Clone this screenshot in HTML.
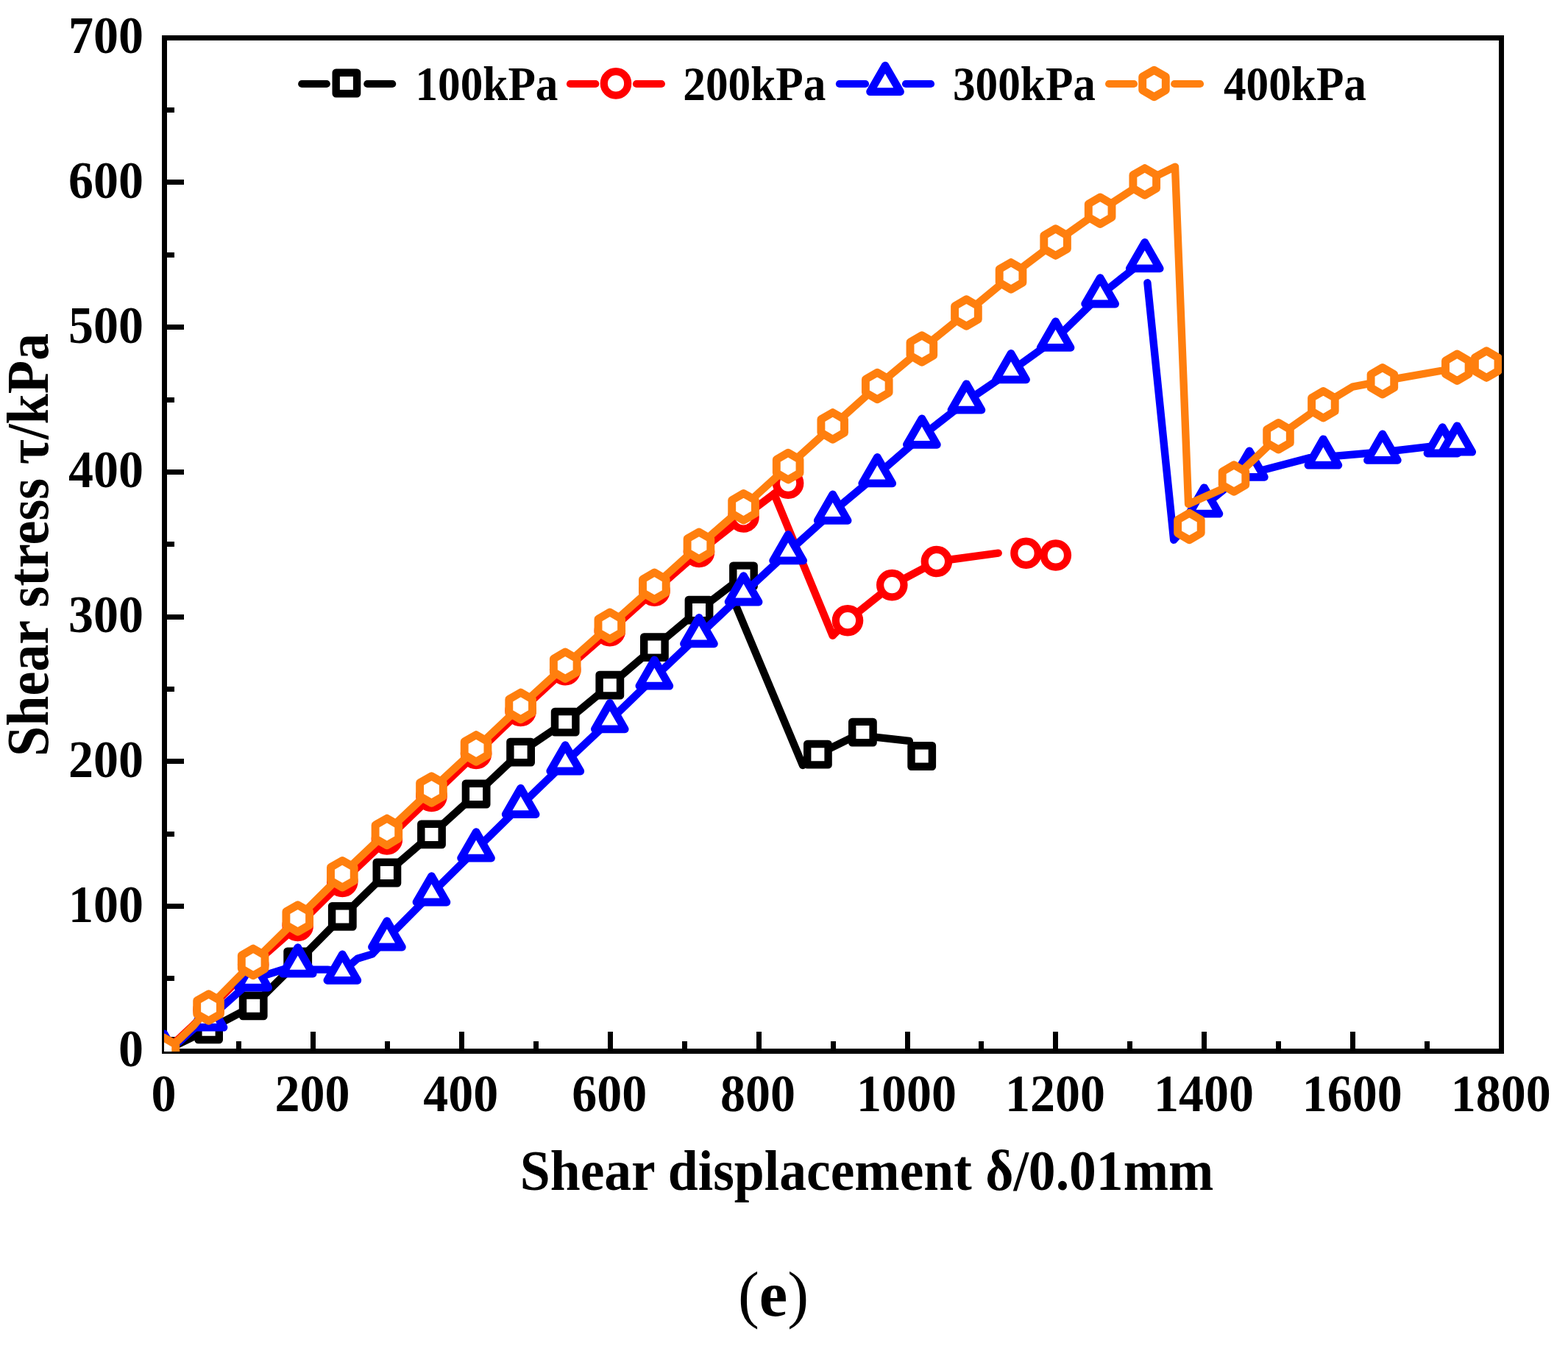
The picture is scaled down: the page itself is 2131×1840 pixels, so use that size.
<!DOCTYPE html>
<html lang="en">
<head>
<meta charset="utf-8">
<title>Shear stress vs shear displacement (e)</title>
<style>
html,body{margin:0;padding:0;background:#fff;}
body{width:2131px;height:1840px;overflow:hidden;}
svg{display:block;}
text{font-family:"Liberation Serif","DejaVu Serif",serif;font-weight:bold;fill:#000;}
.tick{font-size:68px;}
.leg{font-size:60px;}
.axl{font-size:77px;}
.cap{font-size:91px;}
.ln polyline,.ln line{fill:none;stroke-width:10.4;stroke-linecap:round;stroke-linejoin:round;}
.mk rect,.mk circle,.mk polygon{fill:#fff;stroke-width:10.2;stroke-linejoin:round;}
.lg line{stroke-width:10.2px;}
.mk .sq{stroke-width:10.4px;}.mk .ci{stroke-width:10.2px;}.mk .tr{stroke-width:10.8px;}.mk .hx{stroke-width:10.9px;}
</style>
</head>
<body>
<svg width="2131" height="1840" viewBox="0 0 2131 1840">
<rect x="0" y="0" width="2131" height="1840" fill="#fff"/>

<g shape-rendering="crispEdges" fill="none" stroke="#000" stroke-width="7">
<rect x="223.4" y="51.2" width="1817.2" height="1377"/>
<line x1="324.4" y1="1428.2" x2="324.4" y2="1414.7"/>
<line x1="425.3" y1="1428.2" x2="425.3" y2="1401.9"/>
<line x1="526.3" y1="1428.2" x2="526.3" y2="1414.7"/>
<line x1="627.2" y1="1428.2" x2="627.2" y2="1401.9"/>
<line x1="728.2" y1="1428.2" x2="728.2" y2="1414.7"/>
<line x1="829.1" y1="1428.2" x2="829.1" y2="1401.9"/>
<line x1="930.1" y1="1428.2" x2="930.1" y2="1414.7"/>
<line x1="1031" y1="1428.2" x2="1031" y2="1401.9"/>
<line x1="1132" y1="1428.2" x2="1132" y2="1414.7"/>
<line x1="1233" y1="1428.2" x2="1233" y2="1401.9"/>
<line x1="1333.9" y1="1428.2" x2="1333.9" y2="1414.7"/>
<line x1="1434.9" y1="1428.2" x2="1434.9" y2="1401.9"/>
<line x1="1535.8" y1="1428.2" x2="1535.8" y2="1414.7"/>
<line x1="1636.8" y1="1428.2" x2="1636.8" y2="1401.9"/>
<line x1="1737.7" y1="1428.2" x2="1737.7" y2="1414.7"/>
<line x1="1838.7" y1="1428.2" x2="1838.7" y2="1401.9"/>
<line x1="1939.6" y1="1428.2" x2="1939.6" y2="1414.7"/>
<line x1="223.4" y1="1329.8" x2="236.9" y2="1329.8"/>
<line x1="223.4" y1="1231.5" x2="249.7" y2="1231.5"/>
<line x1="223.4" y1="1133.1" x2="236.9" y2="1133.1"/>
<line x1="223.4" y1="1034.8" x2="249.7" y2="1034.8"/>
<line x1="223.4" y1="936.4" x2="236.9" y2="936.4"/>
<line x1="223.4" y1="838.1" x2="249.7" y2="838.1"/>
<line x1="223.4" y1="739.7" x2="236.9" y2="739.7"/>
<line x1="223.4" y1="641.3" x2="249.7" y2="641.3"/>
<line x1="223.4" y1="543" x2="236.9" y2="543"/>
<line x1="223.4" y1="444.6" x2="249.7" y2="444.6"/>
<line x1="223.4" y1="346.3" x2="236.9" y2="346.3"/>
<line x1="223.4" y1="247.9" x2="249.7" y2="247.9"/>
<line x1="223.4" y1="149.6" x2="236.9" y2="149.6"/>
</g>
<g class="tick">
<text class="tick" transform="translate(222.5 1509.6) scale(1.0 1.065)" text-anchor="middle">0</text>
<text class="tick" transform="translate(424.4 1509.6) scale(1.0 1.065)" text-anchor="middle">200</text>
<text class="tick" transform="translate(626.3 1509.6) scale(1.0 1.065)" text-anchor="middle">400</text>
<text class="tick" transform="translate(828.2 1509.6) scale(1.0 1.065)" text-anchor="middle">600</text>
<text class="tick" transform="translate(1030.1 1509.6) scale(1.0 1.065)" text-anchor="middle">800</text>
<text class="tick" transform="translate(1232.1 1509.6) scale(1.0 1.065)" text-anchor="middle">1000</text>
<text class="tick" transform="translate(1434 1509.6) scale(1.0 1.065)" text-anchor="middle">1200</text>
<text class="tick" transform="translate(1635.9 1509.6) scale(1.0 1.065)" text-anchor="middle">1400</text>
<text class="tick" transform="translate(1837.8 1509.6) scale(1.0 1.065)" text-anchor="middle">1600</text>
<text class="tick" transform="translate(2039.7 1509.6) scale(1.0 1.065)" text-anchor="middle">1800</text>
<text class="tick" transform="translate(195.1 1449.3) scale(1.0 1.065)" text-anchor="end">0</text>
<text class="tick" transform="translate(195.1 1252.6) scale(1.0 1.065)" text-anchor="end">100</text>
<text class="tick" transform="translate(195.1 1055.9) scale(1.0 1.065)" text-anchor="end">200</text>
<text class="tick" transform="translate(195.1 859.2) scale(1.0 1.065)" text-anchor="end">300</text>
<text class="tick" transform="translate(195.1 662.4) scale(1.0 1.065)" text-anchor="end">400</text>
<text class="tick" transform="translate(195.1 465.7) scale(1.0 1.065)" text-anchor="end">500</text>
<text class="tick" transform="translate(195.1 269) scale(1.0 1.065)" text-anchor="end">600</text>
<text class="tick" transform="translate(195.1 72.3) scale(1.0 1.065)" text-anchor="end">700</text>
</g>
<clipPath id="plotclip"><rect x="223" y="51.2" width="1818" height="1377.8"/></clipPath>
<g clip-path="url(#plotclip)">
<g class="ln"><polyline points="222.9,1428.4 283.6,1398.8 344.2,1366.8 404.7,1306.8 465.3,1245.4 525.9,1186 586.5,1133.9 647.1,1079 707.6,1022.1 768.2,981.2 828.8,931.2 889.4,879.6 950,829.1 1010.5,782.8" stroke="#000000"/><polyline points="1001.1,825.6 1091,1040 1111.4,1025.2 1172.4,995.1 1182,1000.8 1235.8,1006.9" stroke="#000000"/></g>
<g class="mk"><rect class="sq" x="208.7" y="1414.2" width="28.4" height="28.4" stroke="#000000"/><rect class="sq" x="269.4" y="1384.6" width="28.4" height="28.4" stroke="#000000"/><rect class="sq" x="330" y="1352.6" width="28.4" height="28.4" stroke="#000000"/><rect class="sq" x="390.5" y="1292.6" width="28.4" height="28.4" stroke="#000000"/><rect class="sq" x="451.1" y="1231.2" width="28.4" height="28.4" stroke="#000000"/><rect class="sq" x="511.7" y="1171.8" width="28.4" height="28.4" stroke="#000000"/><rect class="sq" x="572.3" y="1119.7" width="28.4" height="28.4" stroke="#000000"/><rect class="sq" x="632.9" y="1064.8" width="28.4" height="28.4" stroke="#000000"/><rect class="sq" x="693.4" y="1007.9" width="28.4" height="28.4" stroke="#000000"/><rect class="sq" x="754" y="967" width="28.4" height="28.4" stroke="#000000"/><rect class="sq" x="814.6" y="917" width="28.4" height="28.4" stroke="#000000"/><rect class="sq" x="875.2" y="865.4" width="28.4" height="28.4" stroke="#000000"/><rect class="sq" x="935.8" y="814.9" width="28.4" height="28.4" stroke="#000000"/><rect class="sq" x="996.3" y="768.6" width="28.4" height="28.4" stroke="#000000"/><rect class="sq" x="1097.2" y="1011" width="28.4" height="28.4" stroke="#000000"/><rect class="sq" x="1158.2" y="980.9" width="28.4" height="28.4" stroke="#000000"/><rect class="sq" x="1238.5" y="1013.3" width="28.4" height="28.4" stroke="#000000"/></g>
<g class="ln"><polyline points="222.9,1428.4 243.2,1411.5 263.4,1392.5 283.6,1372 344.2,1311 404.7,1257.9 465.3,1198 525.9,1140.5 586.5,1081.9 647.1,1024 707.6,966 768.2,910.1 828.8,857.3 889.4,802.8 950,750 1010.5,702.4 1071.1,656.6" stroke="#FF0000"/><polyline points="1052,671.1 1131.6,863.8 1152,843.2 1212.3,795.1 1272.9,763 1356.7,751.7" stroke="#FF0000"/></g>
<g class="mk"><circle class="ci" cx="222.9" cy="1428.4" r="16.2" stroke="#FF0000"/><circle class="ci" cx="283.6" cy="1372" r="16.2" stroke="#FF0000"/><circle class="ci" cx="344.2" cy="1311" r="16.2" stroke="#FF0000"/><circle class="ci" cx="404.7" cy="1257.9" r="16.2" stroke="#FF0000"/><circle class="ci" cx="465.3" cy="1198" r="16.2" stroke="#FF0000"/><circle class="ci" cx="525.9" cy="1140.5" r="16.2" stroke="#FF0000"/><circle class="ci" cx="586.5" cy="1081.9" r="16.2" stroke="#FF0000"/><circle class="ci" cx="647.1" cy="1024" r="16.2" stroke="#FF0000"/><circle class="ci" cx="707.6" cy="966" r="16.2" stroke="#FF0000"/><circle class="ci" cx="768.2" cy="910.1" r="16.2" stroke="#FF0000"/><circle class="ci" cx="828.8" cy="857.3" r="16.2" stroke="#FF0000"/><circle class="ci" cx="889.4" cy="802.8" r="16.2" stroke="#FF0000"/><circle class="ci" cx="950" cy="750" r="16.2" stroke="#FF0000"/><circle class="ci" cx="1010.5" cy="702.4" r="16.2" stroke="#FF0000"/><circle class="ci" cx="1071.1" cy="656.6" r="16.2" stroke="#FF0000"/><circle class="ci" cx="1152" cy="843.2" r="16.2" stroke="#FF0000"/><circle class="ci" cx="1212.3" cy="795.1" r="16.2" stroke="#FF0000"/><circle class="ci" cx="1272.9" cy="763" r="16.2" stroke="#FF0000"/><circle class="ci" cx="1394.5" cy="751.7" r="16.2" stroke="#FF0000"/><circle class="ci" cx="1434.8" cy="754.5" r="16.2" stroke="#FF0000"/></g>
<g class="ln"><polyline points="222.9,1428.4 243.2,1416 263.4,1398 283.6,1384.4 344.2,1330.3 404.7,1311.3 425,1317.6 445,1317.6 465.3,1320.5 485.6,1302.8 505.8,1296.6 525.9,1275.2 586.5,1214.2 647.1,1154.3 707.6,1094.8 768.2,1036.2 828.8,979.1 889.4,920.4 950,863.1 1010.5,806.2 1071.1,750.1 1131.7,695.6 1192.3,645.1 1252.9,592.5 1313.4,545.4 1374,504.1 1434.6,460.6 1495.2,401.2 1555.8,353.1" stroke="#0000FF"/><polyline points="1559.4,384.3 1595.2,733.7 1636.5,687.1 1697.9,637.2 1704,642 1779.3,622.2 1798.4,621.1 1878.9,614.3 1960.4,604.9" stroke="#0000FF"/></g>
<g class="mk"><polygon class="tr" points="222.9,1404.8 243.3,1440.2 202.5,1440.2" stroke="#0000FF"/><polygon class="tr" points="283.6,1360.8 304,1396.2 263.1,1396.2" stroke="#0000FF"/><polygon class="tr" points="344.2,1306.7 364.6,1342.1 323.7,1342.1" stroke="#0000FF"/><polygon class="tr" points="404.7,1287.7 425.2,1323.1 384.3,1323.1" stroke="#0000FF"/><polygon class="tr" points="465.3,1296.9 485.8,1332.3 444.9,1332.3" stroke="#0000FF"/><polygon class="tr" points="525.9,1251.6 546.3,1287 505.5,1287" stroke="#0000FF"/><polygon class="tr" points="586.5,1190.6 606.9,1226 566,1226" stroke="#0000FF"/><polygon class="tr" points="647.1,1130.7 667.5,1166.1 626.6,1166.1" stroke="#0000FF"/><polygon class="tr" points="707.6,1071.2 728.1,1106.6 687.2,1106.6" stroke="#0000FF"/><polygon class="tr" points="768.2,1012.6 788.7,1048 747.8,1048" stroke="#0000FF"/><polygon class="tr" points="828.8,955.5 849.2,990.9 808.4,990.9" stroke="#0000FF"/><polygon class="tr" points="889.4,896.8 909.8,932.2 868.9,932.2" stroke="#0000FF"/><polygon class="tr" points="950,839.5 970.4,874.9 929.5,874.9" stroke="#0000FF"/><polygon class="tr" points="1010.5,782.6 1031,818 990.1,818" stroke="#0000FF"/><polygon class="tr" points="1071.1,726.5 1091.6,761.9 1050.7,761.9" stroke="#0000FF"/><polygon class="tr" points="1131.7,672 1152.1,707.4 1111.3,707.4" stroke="#0000FF"/><polygon class="tr" points="1192.3,621.5 1212.7,656.9 1171.8,656.9" stroke="#0000FF"/><polygon class="tr" points="1252.9,568.9 1273.3,604.3 1232.4,604.3" stroke="#0000FF"/><polygon class="tr" points="1313.4,521.8 1333.9,557.2 1293,557.2" stroke="#0000FF"/><polygon class="tr" points="1374,480.5 1394.5,515.9 1353.6,515.9" stroke="#0000FF"/><polygon class="tr" points="1434.6,437 1455,472.4 1414.2,472.4" stroke="#0000FF"/><polygon class="tr" points="1495.2,377.6 1515.6,413 1474.7,413" stroke="#0000FF"/><polygon class="tr" points="1555.8,329.5 1576.2,364.9 1535.3,364.9" stroke="#0000FF"/><polygon class="tr" points="1636.5,662.8 1656.9,698.2 1616.1,698.2" stroke="#0000FF"/><polygon class="tr" points="1697.9,612.9 1718.3,648.3 1677.5,648.3" stroke="#0000FF"/><polygon class="tr" points="1798.4,596.8 1818.8,632.2 1778,632.2" stroke="#0000FF"/><polygon class="tr" points="1878.9,590 1899.3,625.4 1858.5,625.4" stroke="#0000FF"/><polygon class="tr" points="1960.4,580.6 1980.8,616 1940,616" stroke="#0000FF"/><polygon class="tr" points="1980.3,578.8 2000.7,614.2 1959.9,614.2" stroke="#0000FF"/></g>
<g class="ln"><polyline points="222.9,1428.4 243.2,1413 263.4,1393.5 283.6,1369 344.2,1307.4 404.7,1248 465.3,1187.7 525.9,1130.4 586.5,1073 647.1,1016.9 707.6,959.4 768.2,904.2 828.8,850.2 889.4,796.2 950,741.3 1010.5,688.8 1071.1,633.6 1131.7,578.9 1192.3,524.5 1252.9,474 1313.4,425 1374,374.9 1434.6,329.1 1495.2,286.2 1555.8,246.9 1597,226.6 1615.1,685 1660,665 1677,650 1737.5,592.7 1798.4,549.8 1838.3,525.6 1878.9,517.8 1960.4,503.5 1980.3,499.3" stroke="#FF7F0E"/></g>
<g class="mk"><polygon class="hx" points="222.9,1410.1 238.7,1419.2 238.7,1437.6 222.9,1446.7 207.1,1437.6 207.1,1419.2" stroke="#FF7F0E"/><polygon class="hx" points="283.6,1350.7 299.4,1359.8 299.4,1378.2 283.6,1387.3 267.7,1378.2 267.7,1359.8" stroke="#FF7F0E"/><polygon class="hx" points="344.2,1289.1 360,1298.2 360,1316.6 344.2,1325.7 328.3,1316.6 328.3,1298.2" stroke="#FF7F0E"/><polygon class="hx" points="404.7,1229.7 420.6,1238.8 420.6,1257.2 404.7,1266.3 388.9,1257.2 388.9,1238.8" stroke="#FF7F0E"/><polygon class="hx" points="465.3,1169.4 481.2,1178.5 481.2,1196.9 465.3,1206 449.5,1196.9 449.5,1178.5" stroke="#FF7F0E"/><polygon class="hx" points="525.9,1112.1 541.7,1121.2 541.7,1139.6 525.9,1148.7 510.1,1139.6 510.1,1121.2" stroke="#FF7F0E"/><polygon class="hx" points="586.5,1054.7 602.3,1063.8 602.3,1082.2 586.5,1091.3 570.6,1082.2 570.6,1063.8" stroke="#FF7F0E"/><polygon class="hx" points="647.1,998.6 662.9,1007.8 662.9,1026 647.1,1035.2 631.2,1026 631.2,1007.8" stroke="#FF7F0E"/><polygon class="hx" points="707.6,941.1 723.5,950.2 723.5,968.5 707.6,977.7 691.8,968.5 691.8,950.2" stroke="#FF7F0E"/><polygon class="hx" points="768.2,885.9 784.1,895.1 784.1,913.4 768.2,922.5 752.4,913.4 752.4,895.1" stroke="#FF7F0E"/><polygon class="hx" points="828.8,831.9 844.6,841.1 844.6,859.4 828.8,868.5 813,859.4 813,841.1" stroke="#FF7F0E"/><polygon class="hx" points="889.4,777.9 905.2,787.1 905.2,805.4 889.4,814.5 873.5,805.4 873.5,787.1" stroke="#FF7F0E"/><polygon class="hx" points="950,723 965.8,732.1 965.8,750.4 950,759.6 934.1,750.4 934.1,732.1" stroke="#FF7F0E"/><polygon class="hx" points="1010.5,670.5 1026.4,679.6 1026.4,697.9 1010.5,707.1 994.7,697.9 994.7,679.6" stroke="#FF7F0E"/><polygon class="hx" points="1071.1,615.3 1087,624.5 1087,642.8 1071.1,651.9 1055.3,642.8 1055.3,624.5" stroke="#FF7F0E"/><polygon class="hx" points="1131.7,560.6 1147.5,569.8 1147.5,588 1131.7,597.2 1115.9,588 1115.9,569.8" stroke="#FF7F0E"/><polygon class="hx" points="1192.3,506.2 1208.1,515.4 1208.1,533.6 1192.3,542.8 1176.4,533.6 1176.4,515.4" stroke="#FF7F0E"/><polygon class="hx" points="1252.9,455.7 1268.7,464.9 1268.7,483.1 1252.9,492.3 1237,483.1 1237,464.9" stroke="#FF7F0E"/><polygon class="hx" points="1313.4,406.7 1329.3,415.9 1329.3,434.1 1313.4,443.3 1297.6,434.1 1297.6,415.9" stroke="#FF7F0E"/><polygon class="hx" points="1374,356.6 1389.9,365.8 1389.9,384 1374,393.2 1358.2,384 1358.2,365.8" stroke="#FF7F0E"/><polygon class="hx" points="1434.6,310.8 1450.4,320 1450.4,338.2 1434.6,347.4 1418.8,338.2 1418.8,320" stroke="#FF7F0E"/><polygon class="hx" points="1495.2,267.9 1511,277.1 1511,295.3 1495.2,304.5 1479.3,295.3 1479.3,277.1" stroke="#FF7F0E"/><polygon class="hx" points="1555.8,228.6 1571.6,237.8 1571.6,256.1 1555.8,265.2 1539.9,256.1 1539.9,237.8" stroke="#FF7F0E"/><polygon class="hx" points="1616.4,697.2 1632.2,706.4 1632.2,724.6 1616.4,733.8 1600.6,724.6 1600.6,706.4" stroke="#FF7F0E"/><polygon class="hx" points="1677,631.7 1692.8,640.9 1692.8,659.1 1677,668.3 1661.2,659.1 1661.2,640.9" stroke="#FF7F0E"/><polygon class="hx" points="1737.5,574.4 1753.3,583.6 1753.3,601.9 1737.5,611 1721.7,601.9 1721.7,583.6" stroke="#FF7F0E"/><polygon class="hx" points="1798.4,531.5 1814.2,540.6 1814.2,558.9 1798.4,568.1 1782.6,558.9 1782.6,540.6" stroke="#FF7F0E"/><polygon class="hx" points="1878.9,499.5 1894.7,508.6 1894.7,526.9 1878.9,536.1 1863.1,526.9 1863.1,508.6" stroke="#FF7F0E"/><polygon class="hx" points="1980.3,481 1996.1,490.2 1996.1,508.4 1980.3,517.6 1964.5,508.4 1964.5,490.2" stroke="#FF7F0E"/><polygon class="hx" points="2020.2,476.8 2036,486 2036,504.2 2020.2,513.4 2004.4,504.2 2004.4,486" stroke="#FF7F0E"/></g>
</g>
<g class="ln lg"><line x1="410.2" y1="114" x2="443.8" y2="114" stroke="#000000"/><line x1="499.3" y1="114" x2="533.2" y2="114" stroke="#000000"/></g>
<g class="mk"><rect class="sq" x="456.7" y="98.8" width="28.4" height="28.4" stroke="#000000"/></g>
<text class="leg" transform="translate(564.5 135.6) scale(1.021 1.074)">100kPa</text>
<g class="ln lg"><line x1="775" y1="114" x2="809.3" y2="114" stroke="#FF0000"/><line x1="865" y1="114" x2="898.9" y2="114" stroke="#FF0000"/></g>
<g class="mk"><circle class="ci" cx="837" cy="113.4" r="16.2" stroke="#FF0000"/></g>
<text class="leg" transform="translate(928.3 135.6) scale(1.021 1.074)">200kPa</text>
<g class="ln lg"><line x1="1140.9" y1="114" x2="1176" y2="114" stroke="#0000FF"/><line x1="1231" y1="114" x2="1265" y2="114" stroke="#0000FF"/></g>
<g class="mk"><polygon class="tr" points="1203,89.2 1223.5,124.6 1182.6,124.6" stroke="#0000FF"/></g>
<text class="leg" transform="translate(1295 135.6) scale(1.021 1.074)">300kPa</text>
<g class="ln lg"><line x1="1507.1" y1="114" x2="1541" y2="114" stroke="#FF7F0E"/><line x1="1596.2" y1="114" x2="1631" y2="114" stroke="#FF7F0E"/></g>
<g class="mk"><polygon class="hx" points="1568.5,95.2 1584.3,104.3 1584.3,122.6 1568.5,131.8 1552.7,122.6 1552.7,104.3" stroke="#FF7F0E"/></g>
<text class="leg" transform="translate(1663 135.6) scale(1.021 1.074)">400kPa</text>
<text class="axl" transform="translate(1178 1616.5) scale(0.956 1.03)" text-anchor="middle">Shear displacement δ/0.01mm</text>
<text class="axl" transform="translate(64.6 740.5) rotate(-90) scale(0.963 1.03)" text-anchor="middle">Shear stress τ/kPa</text>
<text class="cap" transform="translate(1051 1788.1) scale(0.952 0.952)" text-anchor="middle"><tspan style="font-weight:normal">(</tspan>e<tspan style="font-weight:normal">)</tspan></text>
</svg>
</body>
</html>
